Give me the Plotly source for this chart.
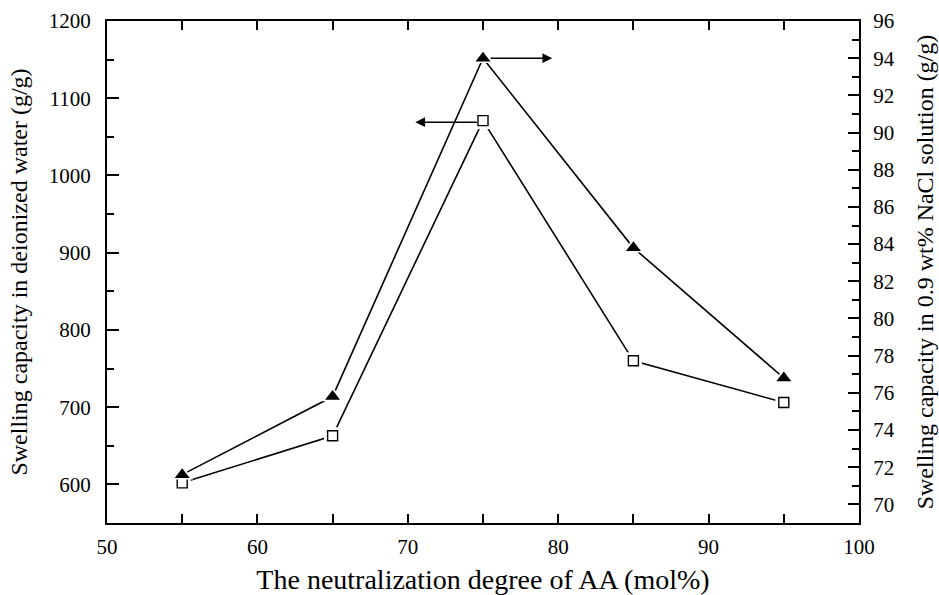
import plotly.graph_objects as go

x_vals = [55, 65, 75, 85, 95]
water = [602, 663, 1071, 760, 706]
nacl = [71.6, 75.8, 94.0, 83.8, 76.8]

FONT = "Liberation Serif"

fig = go.Figure()

# deionized water series (left axis)
fig.add_trace(go.Scatter(x=x_vals, y=water, mode="lines", line=dict(color="black", width=1.6),
                         showlegend=False, hoverinfo="skip"))
fig.add_trace(go.Scatter(x=x_vals, y=water, mode="markers",
                         marker=dict(symbol="square", size=17, color="white", line=dict(width=0)),
                         showlegend=False, hoverinfo="skip"))
fig.add_trace(go.Scatter(x=x_vals, y=water, mode="markers",
                         marker=dict(symbol="square", size=10, color="white",
                                     line=dict(color="black", width=1.4)),
                         showlegend=False))
# NaCl series (right axis)
fig.add_trace(go.Scatter(x=x_vals, y=nacl, yaxis="y2", mode="lines", line=dict(color="black", width=1.6),
                         showlegend=False, hoverinfo="skip"))
fig.add_trace(go.Scatter(x=x_vals, y=nacl, yaxis="y2", mode="markers",
                         marker=dict(symbol="triangle-up", size=19, color="white", line=dict(width=0)),
                         showlegend=False, hoverinfo="skip"))
fig.add_trace(go.Scatter(x=x_vals, y=nacl, yaxis="y2", mode="markers",
                         marker=dict(symbol="triangle-up", size=13, color="black", line=dict(width=0)),
                         showlegend=False))

axis_common = dict(showgrid=False, zeroline=False, showline=True, linecolor="black", linewidth=2,
                   ticks="inside", tickcolor="black", tickwidth=2,
                   automargin=False,
                   tickfont=dict(family=FONT, size=21, color="black"))

fig.update_layout(
    width=939, height=595,
    margin=dict(l=107, r=80, t=21, b=72),
    plot_bgcolor="white", paper_bgcolor="white",
    xaxis=dict(range=[50, 100], dtick=10, ticklen=9, mirror="allticks", ticklabelstandoff=4,
               minor=dict(dtick=5, ticks="inside", ticklen=5, tickcolor="black", tickwidth=2),
               title=dict(text="The neutralization degree of AA (mol%)",
                          font=dict(family=FONT, size=28, color="black"), standoff=14),
               **axis_common),
    yaxis=dict(range=[550, 1200], dtick=100, ticklen=12, ticklabelstandoff=10,
               minor=dict(dtick=50, ticks="inside", ticklen=7, tickcolor="black", tickwidth=2),
               title=dict(text="Swelling capacity in deionized water (g/g)",
                          font=dict(family=FONT, size=24, color="black"), standoff=14),
               **axis_common),
    yaxis2=dict(range=[69, 96], dtick=2, ticklen=11, overlaying="y", side="right", ticklabelstandoff=8,
                minor=dict(dtick=1, ticks="inside", ticklen=7, tickcolor="black", tickwidth=2),
                title=dict(text="Swelling capacity in 0.9 wt% NaCl solution (g/g)",
                           font=dict(family=FONT, size=24, color="black"), standoff=22),
                **axis_common),
)

# arrows pointing to the relevant axes
fig.add_annotation(x=79.6, y=94.0, xref="x", yref="y2", ax=-63, ay=0,
                   text="", showarrow=True, arrowhead=2, arrowsize=1.3, arrowwidth=1.5,
                   arrowcolor="black")
fig.add_annotation(x=70.5, y=1069, xref="x", yref="y", ax=63, ay=0,
                   text="", showarrow=True, arrowhead=2, arrowsize=1.3, arrowwidth=1.5,
                   arrowcolor="black")

fig.write_html("out.html")
